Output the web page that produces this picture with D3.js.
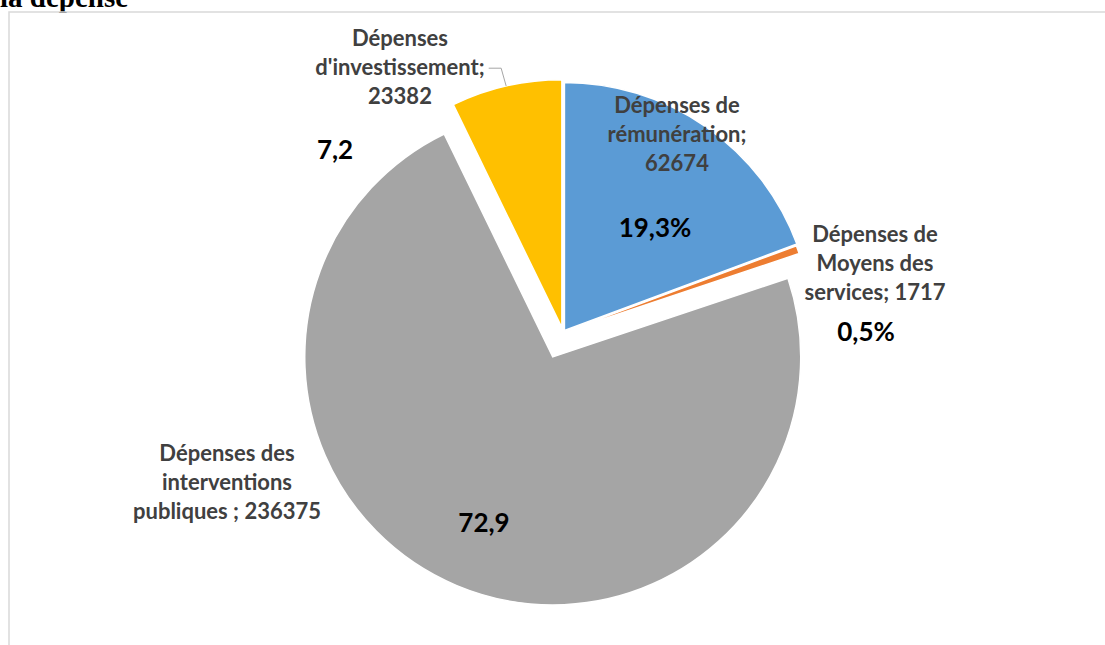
<!DOCTYPE html>
<html>
<head>
<meta charset="utf-8">
<script src="https://cdn.jsdelivr.net/npm/d3@7"></script>
<style>
  body { margin: 0; background: #fff; }
  svg { display: block; }
</style>
</head>
<body>
<div id="chart"></div>
<script>
// data
var categories = [
  "Dépenses de rémunération",
  "Dépenses de Moyens des services",
  "Dépenses des interventions publiques",
  "Dépenses d'investissement"
];
var values = [62674, 1717, 236375, 23382];
var pctLabels = ["19,3%", "0,5%", "72,9", "7,2"];
var nameLines = [
  ["Dépenses de", "rémunération;"],
  ["Dépenses de", "Moyens des", "services;"],
  ["Dépenses des", "interventions", "publiques ;"],
  ["Dépenses", "d'investissement;"]
];

// styling / layout
var colors = ["#5b9bd5", "#ed7d31", "#a5a5a5", "#ffc000"];
var explode = [2.5, 1, 26.5, 5];
var valueInline = [false, true, true, false];
var nameCenter = [[677, 134], [875, 263], [227, 482], [400, 67]];
var pctCenter = [[655, 228], [866, 332], [484, 523], [335, 150]];

var width = 1105, height = 645;
var cx = 563, cy = 332.5, radius = 248;
var lineH = 29;

var svg = d3
  .select("#chart")
  .append("svg")
  .attr("width", width)
  .attr("height", height);

// cut-off title of the page above the chart
svg
  .append("text")
  .attr("x", 0)
  .attr("y", 7)
  .style("font-family", "'Liberation Serif', 'Times New Roman', serif")
  .style("font-weight", "bold")
  .style("font-size", "29px")
  .attr("fill", "#000")
  .text("la dépense");

// chart area border
svg
  .append("rect")
  .attr("x", 9)
  .attr("y", 12)
  .attr("width", width + 20)
  .attr("height", height + 20)
  .attr("fill", "none")
  .attr("stroke", "#d9d9d9")
  .attr("stroke-width", 1.5);

var pie = d3.pie().sort(null).value(function (d) {
  return d;
});
var arcs = pie(values);

var arc = d3.arc().innerRadius(0).outerRadius(radius);

function midAngle(d) {
  return (d.startAngle + d.endAngle) / 2;
}

var g = svg
  .append("g")
  .attr("transform", "translate(" + cx + "," + cy + ")");

g.selectAll(".slice")
  .data(arcs)
  .enter()
  .append("path")
  .attr("class", "slice")
  .attr("d", arc)
  .attr("transform", function (d, i) {
    var a = midAngle(d);
    return (
      "translate(" +
      explode[i] * Math.sin(a) +
      "," +
      -explode[i] * Math.cos(a) +
      ")"
    );
  })
  .attr("fill", function (d, i) {
    return colors[i];
  })
  .attr("stroke", "#fff")
  .attr("stroke-width", 1.5);

// category labels
var labelFont = "Lato, 'Open Sans', sans-serif";
var nameNodes = [];
arcs.forEach(function (d, i) {
  var lines = nameLines[i].slice();
  var v = String(values[i]);
  if (valueInline[i]) lines[lines.length - 1] += " " + v;
  else lines.push(v);
  var n = lines.length;
  var t = svg
    .append("text")
    .attr("text-anchor", "middle")
    .style("font-family", labelFont)
    .style("font-weight", "bold")
    .style("font-size", "22px")
    .attr("fill", "#404040");
  lines.forEach(function (l, k) {
    t.append("tspan")
      .attr("x", nameCenter[i][0])
      .attr("y", nameCenter[i][1] + (k - (n - 1) / 2) * lineH)
      .attr("dy", "0.35em")
      .text(l);
  });
  nameNodes.push(t);
});

// percentage labels
svg
  .selectAll(".pct")
  .data(arcs)
  .enter()
  .append("text")
  .attr("class", "pct")
  .attr("x", function (d, i) {
    return pctCenter[i][0];
  })
  .attr("y", function (d, i) {
    return pctCenter[i][1];
  })
  .attr("dy", "0.35em")
  .attr("text-anchor", "middle")
  .style("font-family", labelFont)
  .style("font-weight", "bold")
  .style("font-size", "26px")
  .attr("fill", "#000")
  .text(function (d, i) {
    return pctLabels[i];
  });

// leader line for the investment label
var inv = arcs[3];
var am = midAngle(inv);
var ex = cx + (explode[3] + radius) * Math.sin(am);
var ey = cy - (explode[3] + radius) * Math.cos(am);
var tsp = nameNodes[3].selectAll("tspan").nodes()[1];
var bb = tsp.getBBox();
var ly = bb.y + bb.height / 2 + 2;
svg
  .append("path")
  .attr(
    "d",
    "M" + (bb.x + bb.width + 4) + "," + ly + "H" + (ex - 5) + "L" + ex + "," + ey
  )
  .attr("fill", "none")
  .attr("stroke", "#a6a6a6")
  .attr("stroke-width", 1);
</script>
</body>
</html>
